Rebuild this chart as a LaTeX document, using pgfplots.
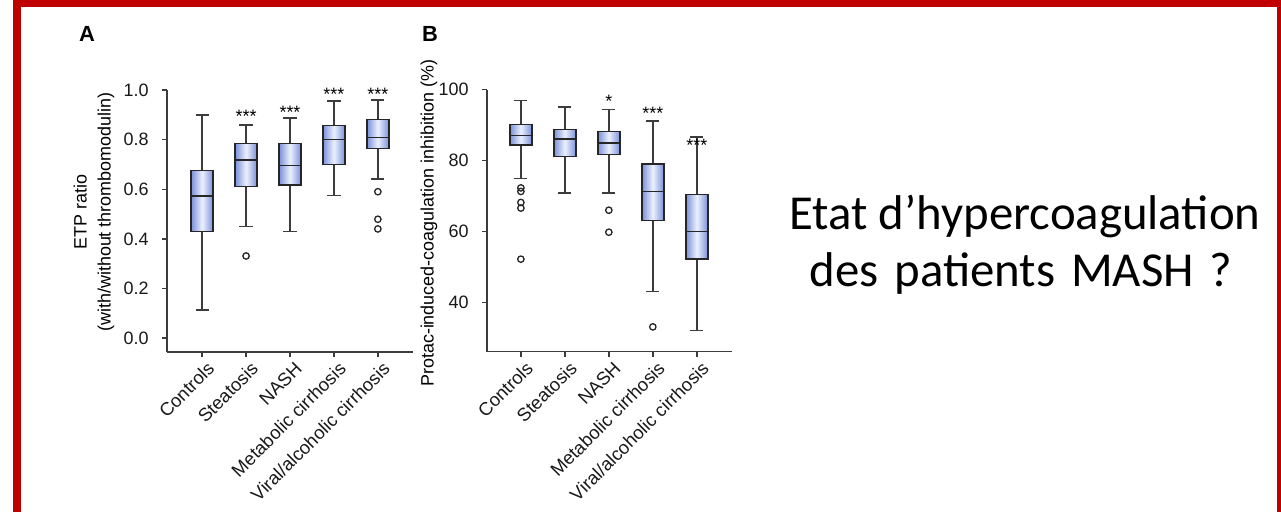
\documentclass[border=0pt]{standalone}
\usepackage{pgfplots}
\pgfplotsset{compat=1.18}
\usepgfplotslibrary{statistics}
\usepackage{fontspec}
\setmainfont{Liberation Sans}
\newfontfamily\calibri{Carlito}
\definecolor{boxblue}{RGB}{122,145,218}
\definecolor{boxlight}{RGB}{236,240,253}
\definecolor{framered}{RGB}{192,0,0}
\definecolor{axgray}{RGB}{60,60,60}

\pgfplotsset{
  panel/.style={
    scale only axis, anchor=south west,
    axis x line*=bottom, axis y line*=left,
    tick align=outside, major tick length=5bp,
    axis line style={line width=1.4bp, draw=axgray},
    tick style={line width=1.4bp, draw=axgray},
    xtick={0,...,4},
    xticklabels={Controls,Steatosis,NASH,Metabolic cirrhosis,Viral/alcoholic cirrhosis},
    xticklabel style={xshift=11bp, yshift=-6bp, rotate=45, anchor=east, font=\fontsize{18.5}{20}\selectfont, text=black!90},
    yticklabel style={xshift=-10bp, font=\fontsize{18}{20}\selectfont, text=black!90},
    /pgf/number format/assume math mode=true,
    ylabel style={font=\fontsize{18}{24}\selectfont, align=center, anchor=center},
    clip=false,
    boxplot/draw direction=y,
    boxplot/every box/.style={draw=black!85, line width=1.4bp, left color=boxblue, right color=boxblue, middle color=boxlight},
    boxplot/every whisker/.style={draw=axgray, line width=1.6bp},
    boxplot/every median/.style={draw=black!85, line width=1.4bp},
  },
  outl/.style={only marks, mark=o, mark size=3.2bp, mark options={line width=1.3bp, draw=black!85, fill=white}},
}
\newcommand{\bp}[6]{\addplot[boxplot prepared={draw position=#1, lower whisker=#2, lower quartile=#3, median=#4, upper quartile=#5, upper whisker=#6, box extend=0.5, whisker extend=0.3}] coordinates {};}

\begin{document}
\begin{tikzpicture}[x=1bp,y=1bp]
\useasboundingbox (0,0) rectangle (1281,512);
\clip (0,0) rectangle (1281,512);
\fill[white] (0,0) rectangle (1281,512);
\draw[framered, line width=8bp] (17,-20) -- (17,508.5) -- (1281,508.5) -- (1281,-20);

% Panel A
\begin{axis}[panel, at={(167bp,160bp)}, width=246bp, height=262bp,
  xmin=-0.8, xmax=4.8, ymin=-0.056, ymax=1.0,
  ytick={0,0.2,...,1.0},
  yticklabel style={/pgf/number format/.cd, fixed, fixed zerofill, precision=1},
  ylabel={ETP ratio\\(with/without thrombomodulin)},
  ylabel style={at={(axis description cs:-0.297,0.534)}},
]
\bp{0}{0.113}{0.429}{0.573}{0.675}{0.900}
\bp{1}{0.449}{0.610}{0.718}{0.785}{0.859}
\bp{2}{0.429}{0.617}{0.696}{0.785}{0.886}
\bp{3}{0.574}{0.700}{0.801}{0.858}{0.956}
\bp{4}{0.642}{0.763}{0.808}{0.882}{0.960}
\addplot[outl] coordinates {(1,0.331) (4,0.590) (4,0.479) (4,0.440)};
\node[font=\fontsize{18}{20}\selectfont, anchor=base] at (axis cs:1,0.868) {***};
\node[font=\fontsize{18}{20}\selectfont, anchor=base] at (axis cs:2,0.887) {***};
\node[font=\fontsize{18}{20}\selectfont, anchor=base] at (axis cs:3,0.957) {***};
\node[font=\fontsize{18}{20}\selectfont, anchor=base] at (axis cs:4,0.957) {***};
\end{axis}

% Panel B
\begin{axis}[panel, at={(487bp,160.3bp)}, width=245bp, height=262bp,
  xmin=-0.77, xmax=4.8, ymin=26.1, ymax=100,
  ytick={40,60,80,100},
  ylabel={Protac-induced-coagulation inhibition (\%)},
  ylabel style={at={(axis description cs:-0.237,0.49)}},
]
\bp{0}{75.0}{84.4}{87.0}{90.1}{96.9}
\bp{1}{70.9}{81.2}{86.1}{88.7}{95.1}
\bp{2}{70.9}{81.7}{85.0}{88.2}{94.4}
\bp{3}{43.1}{63.1}{71.3}{79.0}{91.1}
\bp{4}{32.1}{52.3}{60.0}{70.4}{86.7}
\addplot[outl] coordinates {(0,72.3) (0,71.3) (0,68.2) (0,66.6) (0,52.2) (2,66.0) (2,59.8) (3,33.1)};
\node[font=\fontsize{18}{20}\selectfont, anchor=base] at (axis cs:2,95.0) {*};
\node[font=\fontsize{18}{20}\selectfont, anchor=base] at (axis cs:3,91.7) {***};
\node[font=\fontsize{18}{20}\selectfont, anchor=base] at (axis cs:4,82.6) {***};
\end{axis}

\node[font=\bfseries\fontsize{22}{24}\selectfont] at (87,478) {A};
\node[font=\bfseries\fontsize{22}{24}\selectfont] at (430,478.5) {B};

\node[font=\calibri\fontsize{49}{58}\selectfont, anchor=base] at (1025,282) {Etat d’hypercoagulation};
\node[font=\calibri\fontsize{49}{58}\selectfont, anchor=base] at (1021,225) {\spaceskip=16bp des patients MASH ?};
\end{tikzpicture}
\end{document}
